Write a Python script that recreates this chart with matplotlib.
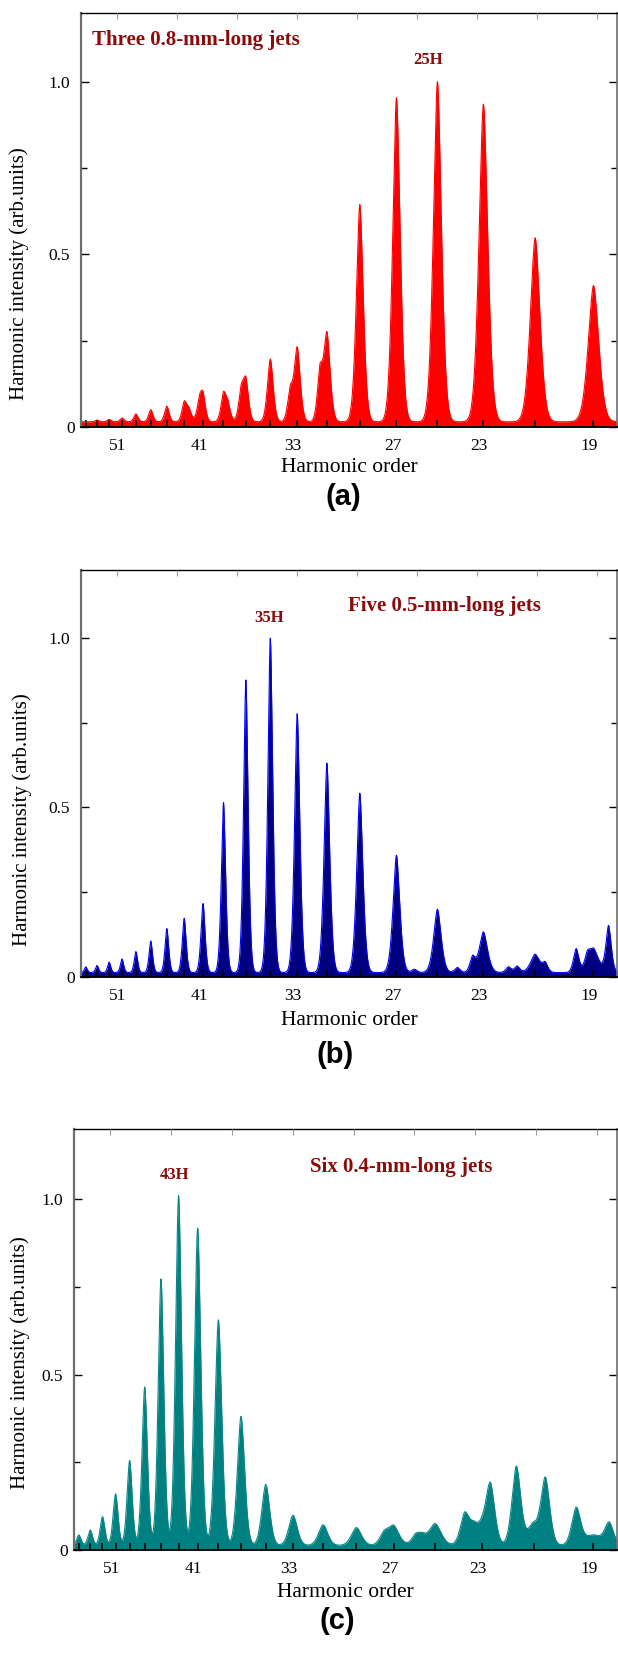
import matplotlib
matplotlib.use("Agg")
import matplotlib.pyplot as plt
import numpy as np
from matplotlib.ticker import FixedLocator, NullFormatter
from matplotlib.transforms import ScaledTranslation

# odd harmonic orders seen by the spectrometer, left to right
ORDERS = [57, 55, 53, 51, 49, 47, 45, 43, 41, 39, 37, 35, 33, 31, 29, 27, 25, 23, 21, 19]
LABELED_ORDERS = [51, 41, 33, 27, 23, 19]

# (a) three 0.8-mm-long jets
PEAKS_A = [0.015, 0.02, 0.022, 0.026, 0.038, 0.05, 0.06, 0.067, 0.08, 0.09,
           0.127, 0.197, 0.228, 0.269, 0.644, 0.954, 1.0, 0.935, 0.548, 0.41]
EXTRA_A_ORDER = [42.5, 41.35, 38.6, 37.4, 33.5, 31.45]
EXTRA_A_HEIGHT = [0.05, 0.07, 0.06, 0.096, 0.1, 0.15]

# (b) five 0.5-mm-long jets
PEAKS_B = [0.03, 0.034, 0.044, 0.053, 0.075, 0.106, 0.143, 0.173, 0.217, 0.514,
           0.876, 1.0, 0.776, 0.631, 0.542, 0.359, 0.2, 0.133, 0.067, 0.082]
EXTRA_B_ORDER = [26.1, 24.1, 23.45, 22.0, 21.67, 20.64, 19.57, 19.2, 18.52]
EXTRA_B_HEIGHT = [0.023, 0.028, 0.057, 0.03, 0.032, 0.039, 0.083, 0.047, 0.15]

# (c) six 0.4-mm-long jets
PEAKS_C = [0.043, 0.057, 0.095, 0.16, 0.255, 0.465, 0.773, 1.01, 0.918, 0.656,
           0.381, 0.187, 0.099, 0.072, 0.064, 0.068, 0.075, 0.062, 0.043, 0.043]
EXTRA_C_ORDER = [27.5, 25.9, 25.6, 23.7, 23.34, 22.65, 21.65, 21.06, 20.6, 19.55, 18.5]
EXTRA_C_HEIGHT = [0.043, 0.04, 0.033, 0.1, 0.047, 0.173, 0.237, 0.043, 0.198, 0.118, 0.075]

TITLES = ["Three 0.8-mm-long jets", "Five 0.5-mm-long jets", "Six 0.4-mm-long jets"]
PEAK_TAGS = ["25H", "35H", "43H"]
PANEL_TAGS = ["(a)", "(b)", "(c)"]

# detector calibration: axis fraction = A + B/q + C/q^2 (flat-field grating)
CAL_A, CAL_B, CAL_C = -0.6269, 39.32, -175.6


def order_to_frac(q):
    q = np.asarray(q, dtype=float)
    with np.errstate(divide="ignore", invalid="ignore"):
        u = 1.0 / q
        return CAL_A + CAL_B * u + CAL_C * u * u


def frac_to_order(f):
    f = np.asarray(f, dtype=float)
    disc = np.clip(CAL_B ** 2 + 4 * CAL_C * (f - CAL_A), 1e-9, None)
    u = (-CAL_B + np.sqrt(disc)) / (2 * CAL_C)
    with np.errstate(divide="ignore", invalid="ignore"):
        return 1.0 / np.clip(u, 1e-9, None)


def spacing(q):
    # axis fraction between neighbouring odd harmonics around q
    return np.abs(order_to_frac(q - 1) - order_to_frac(q + 1))


def spectrum(frac, centers, heights, fwhms, power, base):
    y = np.full_like(frac, base)
    for c, h, w in zip(centers, heights, fwhms):
        d = np.abs(2 * (frac - c) / w)
        y += max(h - base, 0) * np.exp(-np.log(2) * d ** power)
    return y


panels = [
    dict(peaks=PEAKS_A, eo=EXTRA_A_ORDER, eh=EXTRA_A_HEIGHT, fill="#ff0000", edge="#ff0000",
         w0=2.5, k=0.155, wx=6.0, power=1.7, base=0.015,
         rect=(81, 12.7, 617, 427), title_xy=(0.021, 0.934), tag_xy=(0.648, 0.886),
         ylab=(-0.097, 0.369), xlab=-0.075, panel_xy=(343, 497)),
    dict(peaks=PEAKS_B, eo=EXTRA_B_ORDER, eh=EXTRA_B_HEIGHT, fill="#000080", edge="#0000ff",
         w0=1.5, k=0.16, wx=6.0, power=1.65, base=0.013,
         rect=(81, 570, 617, 977), title_xy=(0.499, 0.9115), tag_xy=(0.351, 0.882),
         ylab=(-0.091, 0.386), xlab=-0.083, panel_xy=(335, 1055)),
    dict(peaks=PEAKS_C, eo=EXTRA_C_ORDER, eh=EXTRA_C_HEIGHT, fill="#008080", edge="#0b8585",
         w0=2.0, k=0.27, wx=10.0, power=1.75, base=0.013,
         rect=(74, 1129, 617, 1550), title_xy=(0.435, 0.91), tag_xy=(0.186, 0.891),
         ylab=(-0.081, 0.445), xlab=-0.078, panel_xy=(337, 1621)),
]

W, H = 618, 1653
fig = plt.figure(figsize=(W / 100, H / 100), dpi=100)
serif = "Liberation Serif"
dark_red = "#8b0a0a"

frac_grid = np.linspace(0, 1, 4000)
q_grid = frac_to_order(frac_grid)
q_left, q_right = frac_to_order(0.0), frac_to_order(1.0)

for i, p in enumerate(panels):
    x0, y0, x1, y1 = p["rect"]
    ax_px = x1 - x0
    ax = fig.add_axes([x0 / W, 1 - y1 / H, ax_px / W, (y1 - y0) / H])
    ax.set_xscale("function", functions=(order_to_frac, frac_to_order))
    ax.set_xlim(q_right, q_left)
    ax.set_ylim(0, 1.2)

    orders = np.array(ORDERS, dtype=float)
    fw_main = (p["w0"] + p["k"] * spacing(orders) * ax_px) / ax_px
    fw_extra = np.full(len(p["eo"]), p["wx"] / ax_px)
    centers = np.concatenate([order_to_frac(orders), order_to_frac(p["eo"])])
    heights = list(p["peaks"]) + list(p["eh"])
    fwhms = np.concatenate([fw_main, fw_extra])
    y = spectrum(frac_grid, centers, heights, fwhms, p["power"], p["base"])
    ax.fill_between(q_grid, 0, y, color=p["fill"], lw=0)
    ax.plot(q_grid, y, color=p["edge"], lw=0.8)

    # x axis: ticks at every odd order, labels on a few
    ax.xaxis.set_major_locator(FixedLocator(LABELED_ORDERS))
    ax.set_xticklabels([str(q) for q in LABELED_ORDERS])
    ax.xaxis.set_minor_locator(FixedLocator([q for q in ORDERS if q not in LABELED_ORDERS]))
    ax.xaxis.set_minor_formatter(NullFormatter())
    ax.tick_params(axis="x", which="both", direction="in", length=5, width=1.2,
                   top=False, pad=8, labelsize=12.5)

    ax.set_yticks([0, 0.5, 1.0])
    ax.set_yticklabels(["0", "0.5", "1.0"])
    ax.yaxis.set_minor_locator(FixedLocator([0.25, 0.75]))
    ax.tick_params(axis="y", which="major", direction="in", length=6, width=1.0,
                   right=True, pad=8, labelsize=12.5)
    ax.tick_params(axis="y", which="minor", direction="in", length=4, width=1.0, right=True)
    shift_x = ScaledTranslation(-4 / 100, 0, fig.dpi_scale_trans)
    for lab in ax.get_xticklabels():
        lab.set_fontfamily(serif)
        lab.set_transform(lab.get_transform() + shift_x)
    shift_zero = ScaledTranslation(5 / 100, 0, fig.dpi_scale_trans)
    for j, lab in enumerate(ax.get_yticklabels()):
        lab.set_fontfamily(serif)
        if j == 0:
            lab.set_transform(lab.get_transform() + shift_zero)

    ax.spines["left"].set_color("#6e6e6e")
    ax.spines["left"].set_linewidth(1.6)
    ax.spines["right"].set_color("#6e6e6e")
    ax.spines["right"].set_linewidth(1.2)
    ax.spines["top"].set_linewidth(1.0)
    ax.spines["bottom"].set_linewidth(1.3)

    # faint evenly spaced ticks along the top edge
    top = ax.twiny()
    top.set_xlim(0, 1)
    top.set_xticks(np.arange(0.067, 1.0, 0.112))
    top.tick_params(axis="x", direction="in", length=4, color="#9a9a9a",
                    labeltop=False, labelbottom=False)
    for s in top.spines.values():
        s.set_visible(False)

    ax.set_xlabel("Harmonic order", fontfamily=serif, fontsize=15.5)
    ax.xaxis.set_label_coords(0.5, p["xlab"])
    ax.set_ylabel("Harmonic intensity (arb.units)", fontfamily=serif, fontsize=15)
    ax.yaxis.set_label_coords(*p["ylab"])

    ax.text(*p["title_xy"], TITLES[i], transform=ax.transAxes, ha="left", va="center",
            fontfamily=serif, fontweight="bold", fontsize=15, color=dark_red)
    ax.text(*p["tag_xy"], PEAK_TAGS[i], transform=ax.transAxes, ha="center", va="center",
            fontfamily=serif, fontweight="bold", fontsize=12, color=dark_red)

    px, py = p["panel_xy"]
    fig.text(px / W, 1 - py / H, PANEL_TAGS[i], ha="center", va="center",
             fontfamily="Liberation Sans", fontweight="bold", fontsize=21)

fig.savefig("out.png", dpi=100)
